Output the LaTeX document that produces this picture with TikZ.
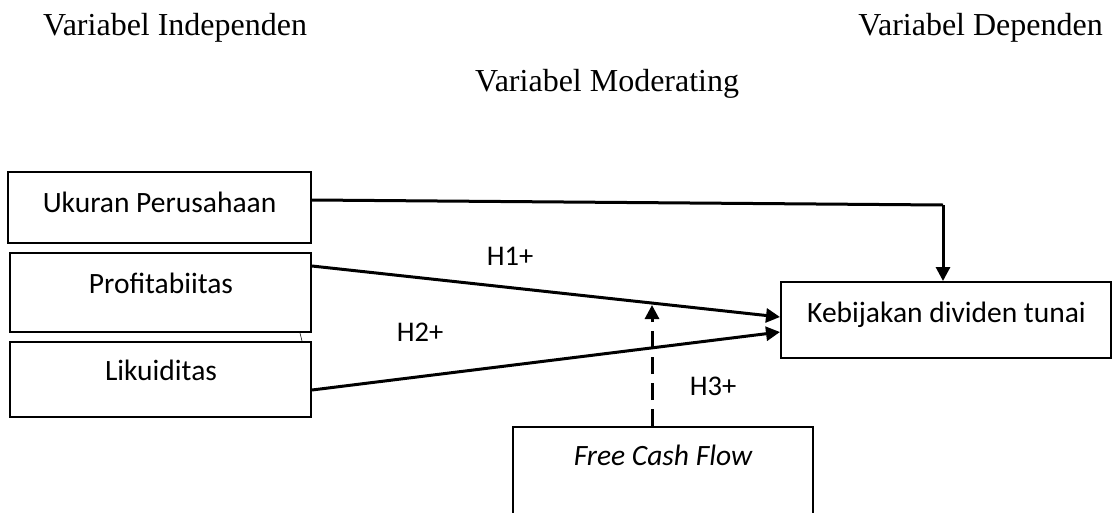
\documentclass[tikz,border=0pt]{standalone}
\usepackage{fontspec}
\setmainfont{Liberation Serif}
\newfontfamily\calfont{Carlito}
\usetikzlibrary{arrows.meta}
\begin{document}
\begin{tikzpicture}[x=1pt,y=-1pt,
  box/.style={draw,line width=2pt,rectangle,inner sep=0pt},
  boxtxt/.style={font=\calfont\fontsize{29.5}{35}\selectfont,anchor=base,inner sep=0pt},
  title/.style={font=\fontsize{32}{37}\selectfont,inner sep=0pt},
  hlab/.style={font=\calfont\fontsize{28.5}{34}\selectfont,anchor=base,inner sep=0pt},
  arr/.style={line width=3pt,-{Triangle[length=14pt,width=14pt]}}]
\clip (0,0) rectangle (1113,512);
\fill[white] (0,0) rectangle (1113,512);
% titles
\node[title,anchor=base west] (tind) at (43,35) {Variabel Independen};
\node[title,anchor=base east] (tdep) at (1103,35) {Variabel Dependen};
\node[title,anchor=base west] (tmod) at (475,91) {Variabel Moderating};
% boxes
\node[box,minimum width=303,minimum height=71] (uk) at (159.5,207.5) {};
\node[box,minimum width=301,minimum height=79] (pr) at (160.5,292.5) {};
\node[box,minimum width=301,minimum height=75] (li) at (160.5,379.5) {};
\node[box,minimum width=330,minimum height=76] (kb) at (946,320) {};
\node[box,minimum width=300,minimum height=110] (fcf) at (663,482) {};
% box texts
\node[boxtxt] (ukt) at (159.5,212) {Ukuran Perusahaan};
\node[boxtxt] (prt) at (161,293) {Profitabiitas};
\node[boxtxt] (lit) at (161,380) {Likuiditas};
\node[boxtxt] (kbt) at (946.5,322) {Kebijakan dividen tunai};
\node[boxtxt] (fcft) at (663,465) {\itshape Free Cash Flow};
% hypothesis labels
\node[hlab] (h1) at (510,265) {H1+};
\node[hlab] (h2) at (420,341) {H2+};
\node[hlab] (h3) at (713,395) {H3+};
% connectors
\coordinate (c1) at (943,205);
\coordinate (m1) at (652,305);
\draw[line width=3pt] ([yshift=7.5pt]uk.east) -- (c1);
\draw[arr] (c1) -- (c1 |- kb.north);
\draw[arr] ([yshift=26.5pt]pr.east) -- ([yshift=3pt]kb.west);
\draw[arr] ([yshift=-10.5pt]li.east) -- ([yshift=-12pt]kb.west);
\draw[arr,dash pattern=on 17pt off 9pt] (fcf.north -| m1) -- (m1);
\draw[line width=0.6pt] ([xshift=139.5pt]pr.south) -- ([xshift=141.5pt]li.north);
\end{tikzpicture}
\end{document}
